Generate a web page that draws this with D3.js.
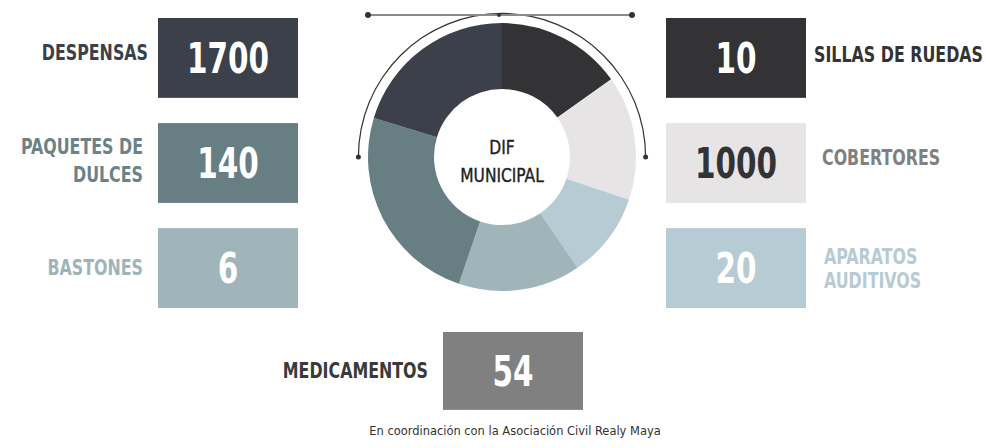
<!DOCTYPE html>
<html lang="es">
<head>
    <meta charset="UTF-8">
    <title>DIF Municipal</title>
    <script src="https://d3js.org/d3.v7.min.js"></script>
    <style>
        body { margin: 0; background: #fff; }
        svg text { font-family: "DejaVu Sans Condensed", "DejaVu Sans", sans-serif; }
        .label { font-size: 21px; font-weight: bold; }
        .num { font-size: 42px; font-weight: bold; }
    </style>
</head>
<body>
    <svg id="chart" width="990" height="448"></svg>

    <script>
        // Data
        const leftItems = ["DESPENSAS", "PAQUETES DE DULCES", "BASTONES"];
        const leftValues = [1700, 140, 6];
        const rightItems = ["SILLAS DE RUEDAS", "COBERTORES", "APARATOS AUDITIVOS"];
        const rightValues = [10, 1000, 20];
        const bottomItem = "MEDICAMENTOS";
        const bottomValue = 54;

        // ring slices, clockwise from 12 o'clock (share, in degrees)
        const ringItems = ["SILLAS DE RUEDAS", "COBERTORES", "APARATOS AUDITIVOS", "BASTONES", "PAQUETES DE DULCES", "DESPENSAS"];
        const ringShares = [54.5, 54, 37, 53, 88, 73];

        const centerLines = ["DIF", "MUNICIPAL"];
        const footer = "En coordinación con la Asociación Civil Realy Maya";

        // styles
        const boxColor = {
            "DESPENSAS": "#3b404b",
            "PAQUETES DE DULCES": "#677e82",
            "BASTONES": "#a0b5b9",
            "SILLAS DE RUEDAS": "#333335",
            "COBERTORES": "#e6e4e5",
            "APARATOS AUDITIVOS": "#b6cbd3",
            "MEDICAMENTOS": "#808080"
        };
        const labelColor = {
            "DESPENSAS": "#3b404b",
            "PAQUETES DE DULCES": "#6b8286",
            "BASTONES": "#9fb4b8",
            "SILLAS DE RUEDAS": "#333335",
            "COBERTORES": "#808080",
            "APARATOS AUDITIVOS": "#b6cbd3",
            "MEDICAMENTOS": "#3a3a3a"
        };
        const numColor = { "COBERTORES": "#333335" };
        const labelLines = {
            "PAQUETES DE DULCES": ["PAQUETES DE", "DULCES"],
            "APARATOS AUDITIVOS": ["APARATOS", "AUDITIVOS"]
        };
        // gap between box and label, label vertical shift
        const labelGap = { "DESPENSAS": 10, "SILLAS DE RUEDAS": 8, "COBERTORES": 16, "APARATOS AUDITIVOS": 18 };
        const labelShift = { "DESPENSAS": -5, "PAQUETES DE DULCES": -3, "SILLAS DE RUEDAS": -3, "COBERTORES": -6, "BASTONES": -1 };

        const LABEL_SX = 0.84, NUM_SX = 0.78;

        const svg = d3.select("#chart");

        // condensed text: text inside a horizontally squeezed group
        function squeezed(parent, x, y, sx) {
            return parent.append("g")
                .attr("transform", `translate(${x},${y}) scale(${sx},1)`)
                .append("text")
                .attr("dy", "0.36em");
        }

        // rows of boxes
        const yRow = d3.scaleBand()
            .domain([0, 1, 2])
            .range([18, 308])
            .paddingInner(0.24);

        const boxW = 140;
        const leftX = 158, rightX = 666;

        function drawColumn(items, values, x0, side) {
            const g = svg.append("g");
            const rows = g.selectAll(".row")
                .data(items.map((d, i) => ({ name: d, value: values[i], i: i })))
                .enter().append("g")
                .attr("class", "row")
                .attr("transform", d => `translate(${x0},${yRow(d.i)})`);

            rows.append("rect")
                .attr("width", boxW)
                .attr("height", yRow.bandwidth())
                .attr("fill", d => boxColor[d.name]);

            rows.each(function (d) {
                const row = d3.select(this);
                const h = yRow.bandwidth();

                squeezed(row, boxW / 2, h / 2, NUM_SX)
                    .attr("class", "num")
                    .attr("text-anchor", "middle")
                    .attr("fill", numColor[d.name] || "#fff")
                    .text(d.value);

                const lines = labelLines[d.name] || [d.name];
                const lh = side === "left" ? 28 : 24;
                const gap = labelGap[d.name] !== undefined ? labelGap[d.name] : 15;
                const lx = side === "left" ? -gap : boxW + gap;
                const shift = labelShift[d.name] || 0;
                lines.forEach((ln, k) => {
                    squeezed(row, lx, h / 2 + shift + (k - (lines.length - 1) / 2) * lh, LABEL_SX)
                        .attr("class", "label")
                        .attr("text-anchor", side === "left" ? "end" : "start")
                        .attr("fill", labelColor[d.name])
                        .text(ln);
                });
            });
        }

        drawColumn(leftItems, leftValues, leftX, "left");
        drawColumn(rightItems, rightValues, rightX, "right");

        // bottom box
        const bot = svg.append("g").attr("transform", "translate(443,332)");
        bot.append("rect")
            .attr("width", boxW)
            .attr("height", yRow.bandwidth() - 2)
            .attr("fill", boxColor[bottomItem]);
        squeezed(bot, boxW / 2, 39, NUM_SX)
            .attr("class", "num")
            .attr("text-anchor", "middle")
            .attr("fill", "#fff")
            .text(bottomValue);
        squeezed(bot, -15, 38, LABEL_SX)
            .attr("class", "label")
            .attr("text-anchor", "end")
            .attr("fill", labelColor[bottomItem])
            .text(bottomItem);

        // donut
        const cx = 502, cy = 157;
        const donut = svg.append("g").attr("transform", `translate(${cx},${cy})`);
        const pie = d3.pie().sort(null).value(d => d.share);
        const arc = d3.arc().innerRadius(68).outerRadius(134);
        donut.selectAll("path.slice")
            .data(pie(ringItems.map((d, i) => ({ name: d, share: ringShares[i] }))))
            .enter().append("path")
            .attr("class", "slice")
            .attr("d", arc)
            .attr("fill", d => boxColor[d.data.name]);

        // outer bracket arc
        const bracket = d3.arc().innerRadius(143).outerRadius(144.2)
            .startAngle(-Math.PI / 2).endAngle(Math.PI / 2);
        donut.append("path").attr("d", bracket).attr("fill", "#333");
        [-1, 1].forEach(s => {
            donut.append("circle").attr("cx", s * 143.6).attr("cy", 0).attr("r", 2.5).attr("fill", "#333");
        });

        // top line with dots
        svg.append("line")
            .attr("x1", 368).attr("x2", 632).attr("y1", 15).attr("y2", 15)
            .attr("stroke", "#8a8a8a").attr("stroke-width", 2);
        [368, 499, 632].forEach((x, i) => {
            svg.append("circle").attr("cx", x).attr("cy", 15).attr("r", i === 1 ? 2 : 3).attr("fill", "#333");
        });

        // centre text
        centerLines.forEach((t, i) => {
            squeezed(donut, 0, -10 + i * 28, 0.86)
                .attr("text-anchor", "middle")
                .attr("fill", "#1e1e1e")
                .style("font-size", "20px")
                .style("stroke", "#1e1e1e")
                .style("stroke-width", "0.4px")
                .text(t);
        });

        // footer
        squeezed(svg, 515, 430, 0.98)
            .attr("text-anchor", "middle")
            .attr("fill", "#333")
            .style("font-size", "13px")
            .text(footer);
    </script>
</body>
</html>
